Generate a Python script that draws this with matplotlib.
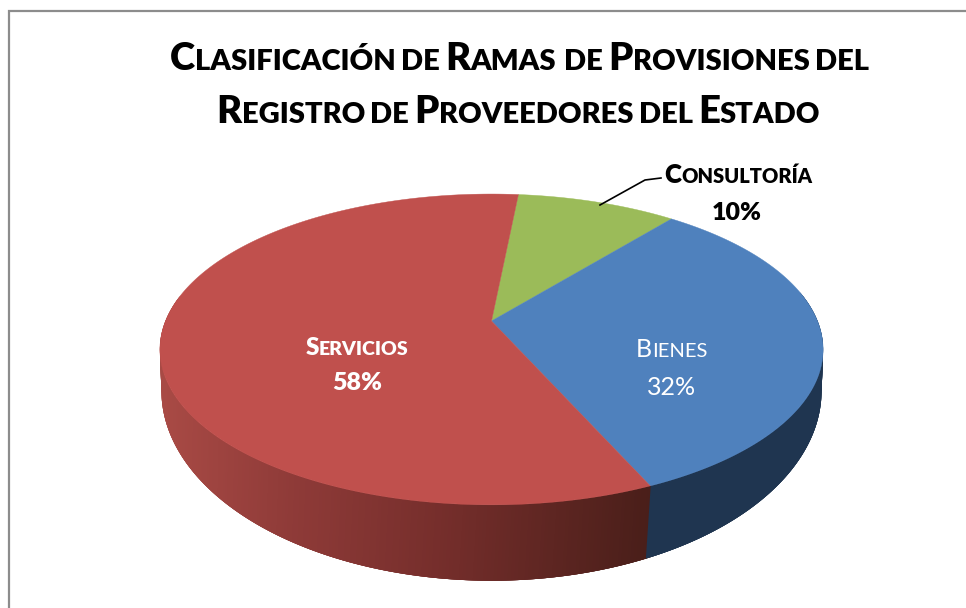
import numpy as np
import matplotlib
matplotlib.use('Agg')
import matplotlib.pyplot as plt
from matplotlib.collections import PolyCollection

# slices, going clockwise from the top
categories = ['Consultoría', 'Bienes', 'Servicios']
values = [9.3, 32.5, 58.2]
percent_labels = ['10%', '32%', '58%']
title_lines = ['Clasificación de Ramas  de Provisiones del',
               'Registro de Proveedores del Estado']

top_colors = ['#9BBB59', '#4F81BD', '#C0504D']
blue_side = '#1F3550'
red_side_x = [160, 290, 440, 645]
red_side_rgb = [(0.66, 0.29, 0.27), (0.56, 0.23, 0.22), (0.46, 0.18, 0.17), (0.29, 0.12, 0.10)]

START_ANGLE = 84.4
FONT = 'Lato'


def project(t, cy, a, b, k=0.183):
    # circle seen in perspective, t in radians, cy is where the pie centre lands
    s = np.sin(t)
    return np.column_stack([491.5 + a * np.cos(t) / (1 + k * s), cy - b * s / (1 + k * s)])


def top_edge(t):
    return project(t, 321, 326, 150.2)


def bottom_edge(t):
    # small twist so the slice edge on the wall leans inward a bit
    return project(t - 0.012, 356, 324.5, 183.6)


def text_width(ax, txt):
    r = ax.figure.canvas.get_renderer()
    w = txt.get_window_extent(r).width
    return w


def small_caps(ax, s, xc, y, big, small, color='black', weight='bold', gap=0.25):
    """ Write s centred on xc, with lower case letters as small capitals """
    runs = []
    for word in s.split(' '):
        if word == '':
            runs.append(('gap', 0.6 * gap * big))
            continue
        if runs:
            runs.append(('gap', gap * big))
        i = 0
        while i < len(word):
            j = i
            while j < len(word) and word[j].islower() == word[i].islower():
                j += 1
            part = word[i:j]
            size = small if part.islower() else big
            t = ax.text(0, y, part.upper(), fontsize=size, color=color, fontweight=weight,
                        family=FONT, ha='left', va='baseline')
            runs.append((t, text_width(ax, t)))
            i = j
    total = sum(r[1] for r in runs)
    x = xc - total / 2
    for t, w in runs:
        if t != 'gap':
            t.set_x(x)
        x += w


fig = plt.figure(figsize=(9.66, 6.08), dpi=100)
ax = fig.add_axes([0, 0, 1, 1])
ax.set_xlim(0, 966)
ax.set_ylim(608, 0)
ax.axis('off')
fig.canvas.draw()

# chart frame
ax.plot([8.5, 8.5, 966], [608, 11, 11], color='#8C8C8C', lw=1.6, solid_joinstyle='miter')

# slice angles from the values
edges = np.radians(START_ANGLE - np.cumsum([0] + values) * 3.6)

# side wall, front part of the pie only. each piece is overlapped by the next one so no seams show
step = np.radians(0.5)
ts = np.arange(np.radians(-190), np.radians(10), step)
polys = []
colors = []
for t0 in ts:
    pair = np.array([t0, t0 + 4 * step])
    polys.append(np.vstack([top_edge(pair), bottom_edge(pair)[::-1]]))
    xm = top_edge(np.array([t0 + step / 2]))[0, 0]
    if t0 >= edges[2]:
        colors.append(blue_side)
    else:
        colors.append([np.interp(xm - 4, red_side_x, [c[i] for c in red_side_rgb]) for i in range(3)])
ax.add_collection(PolyCollection(polys, facecolors=colors, edgecolors='none'))

# top face
for i in range(len(values)):
    t = np.linspace(edges[i], edges[i + 1], 200)
    pts = np.vstack([[491.5, 321], top_edge(t)])
    ax.fill(pts[:, 0], pts[:, 1], color=top_colors[i], lw=0.3, zorder=3)

# labels
small_caps(ax, categories[0], 738, 183, 18.5, 14.5, weight='heavy', gap=0)
ax.text(737, 220, percent_labels[0], fontsize=18, fontweight='heavy', family=FONT, ha='center', va='baseline')
small_caps(ax, categories[1], 672, 357, 18, 14.5, color='white', weight='normal', gap=0)
ax.text(672, 395, percent_labels[1], fontsize=18, color='white', family=FONT, ha='center', va='baseline')
small_caps(ax, categories[2], 357, 355, 17.5, 14, color='white', weight='heavy')
ax.text(357, 390, percent_labels[2], fontsize=18, color='white', fontweight='heavy', family=FONT, ha='center', va='baseline')

# leader line for the small slice
ax.plot([600, 645, 661], [205, 180, 178], color='black', lw=1.2, zorder=4)

# title
small_caps(ax, title_lines[0], 519.5, 70, 27.5, 21, weight='heavy', gap=0.19)
small_caps(ax, title_lines[1], 518.5, 123, 27.5, 21, weight='heavy', gap=0.19)
for t in ax.texts:
    t.set_zorder(5)

fig.savefig('out.png', dpi=100)
